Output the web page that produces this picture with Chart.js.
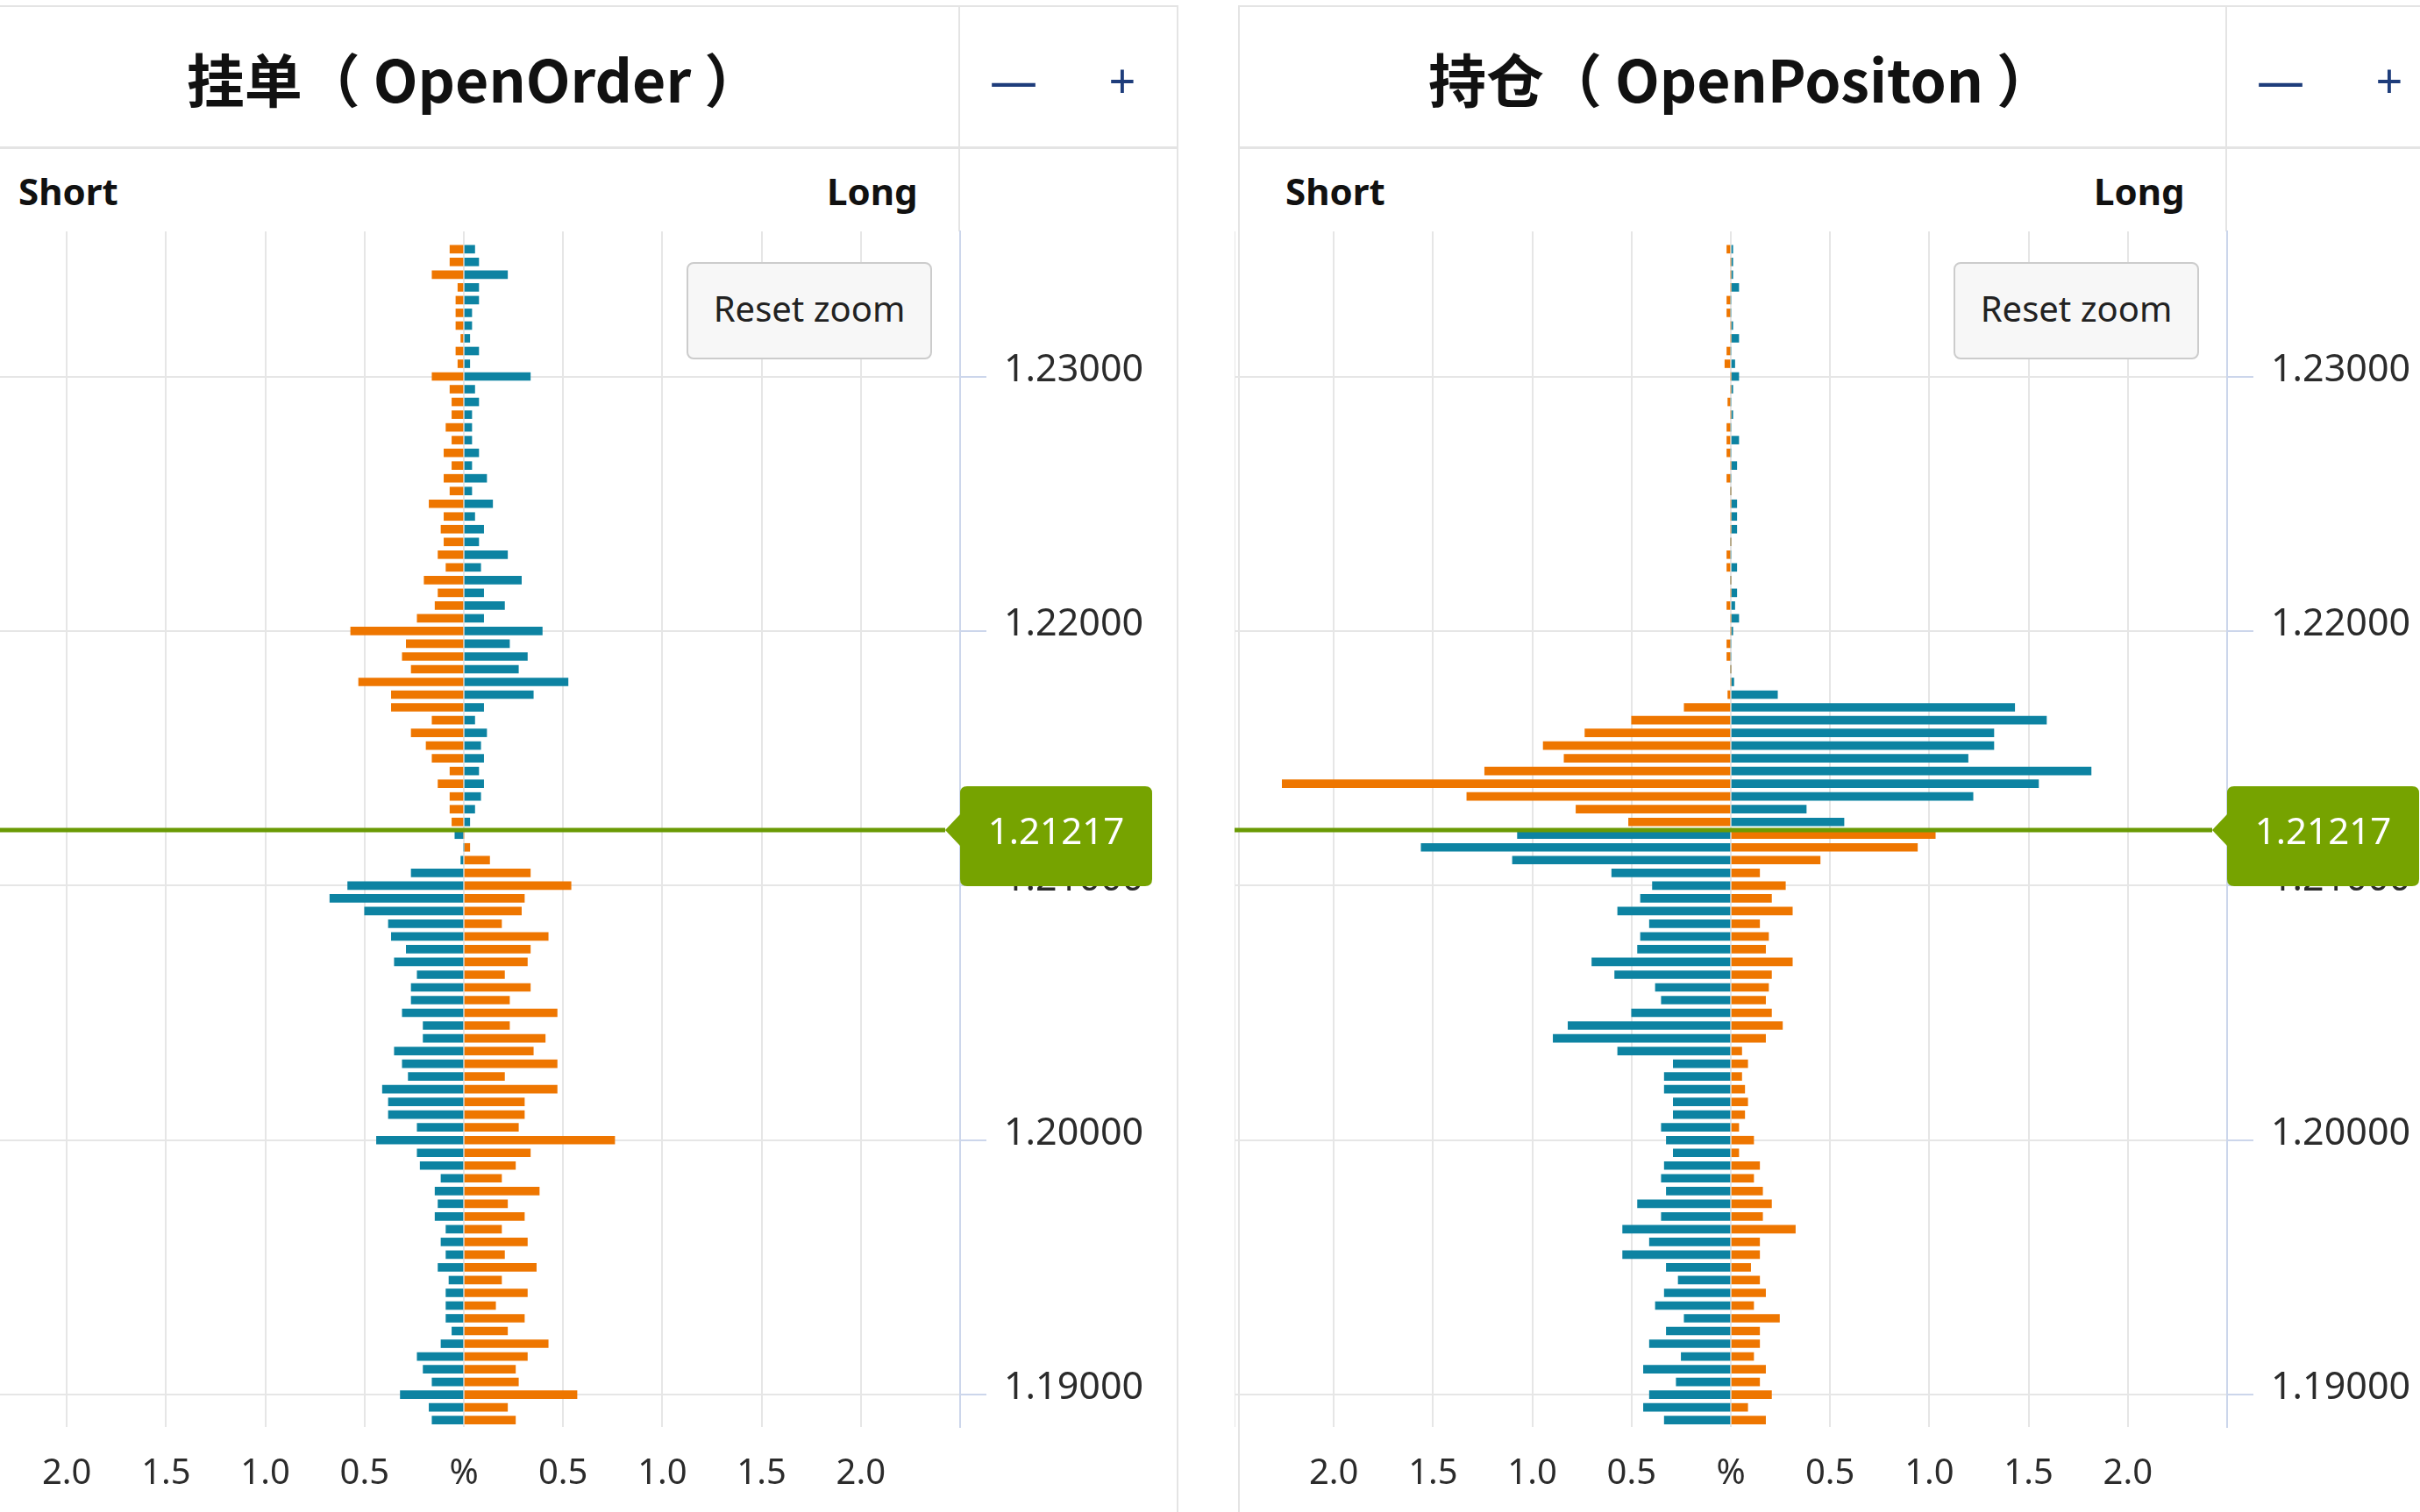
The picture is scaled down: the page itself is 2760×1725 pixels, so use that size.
<!DOCTYPE html>
<html lang="zh">
<head>
  <meta charset="UTF-8">
  <title>挂单 / 持仓</title>
  <script src="https://cdn.jsdelivr.net/npm/chart.js"></script>
  <style>
    html, body {
      margin: 0;
      padding: 0;
      width: 2760px;
      height: 1725px;
      overflow: hidden;
      background: #fff;
      font-family: 'Noto Sans', 'Noto Sans CJK SC', sans-serif;
    }
    .wrap { position: absolute; top: 0; width: 0; height: 0; }
    .frame {
      position: absolute; left: -33px; top: 6px; width: 1377px; height: 1800px;
      border: 2px solid #e4e4e4; box-sizing: border-box;
    }
    .hline { position: absolute; left: -33px; top: 167px; width: 1377px; height: 3px; background: #e4e4e4; }
    .vline { position: absolute; left: 1093px; top: 6px; width: 2px; height: 258px; background: #e4e4e4; }
    .title {
      position: absolute; left: -29px; width: 1140px; top: 8px; height: 160px;
      display: flex; align-items: center; justify-content: center;
      font: bold 66px 'Noto Sans CJK SC', sans-serif; color: #111; white-space: pre;
    }
    .btn {
      position: absolute; top: 61px; width: 80px; height: 60px;
      display: flex; align-items: center; justify-content: center;
      font: 400 54px 'Noto Sans', sans-serif; color: #1e3d7b;
    }
    .side { position: absolute; top: 189px; line-height: 50px; font: bold 42px 'Noto Sans', sans-serif; color: #111; }
    .reset {
      position: absolute; left: 783px; top: 299px; width: 280px; height: 111px; z-index: 2;
      background: #f7f7f7; border: 2px solid #cccccc; border-radius: 8px; box-sizing: border-box;
      display: flex; align-items: center; justify-content: center; padding-bottom: 6px;
      font: 40px 'Noto Sans', sans-serif; color: #222;
    }
    canvas { position: absolute; left: -37px; top: 224px; z-index: 1; }
  </style>
</head>
<body>
  <div class="wrap" style="left:0px">
    <div class="frame"></div>
    <div class="hline"></div>
    <div class="vline"></div>
    <div class="title">挂单（ OpenOrder ）</div>
    <div class="btn" style="left:1116px">—</div>
    <div class="btn" style="left:1240px">+</div>
    <div class="side" style="left:21px">Short</div>
    <div class="side" style="left:943px">Long</div>
    <canvas id="orderChart" width="1382" height="1504"></canvas>
    <div class="reset">Reset zoom</div>
  </div>
  <div class="wrap" style="left:1445px">
    <div class="frame"></div>
    <div class="hline"></div>
    <div class="vline"></div>
    <div class="title">持仓（ OpenPositon ）</div>
    <div class="btn" style="left:1116px">—</div>
    <div class="btn" style="left:1240px">+</div>
    <div class="side" style="left:21px">Short</div>
    <div class="side" style="left:943px">Long</div>
    <canvas id="positionChart" width="1382" height="1504"></canvas>
    <div class="reset">Reset zoom</div>
  </div>

  <script>
    const currentPrice = 1.21217;

    // price bins, top to bottom
    const prices = [
      1.2350, 1.2345, 1.2340, 1.2335, 1.2330, 1.2325, 1.2320, 1.2315, 1.2310, 1.2305,
      1.2300, 1.2295, 1.2290, 1.2285, 1.2280, 1.2275, 1.2270, 1.2265, 1.2260, 1.2255,
      1.2250, 1.2245, 1.2240, 1.2235, 1.2230, 1.2225, 1.2220, 1.2215, 1.2210, 1.2205,
      1.2200, 1.2195, 1.2190, 1.2185, 1.2180, 1.2175, 1.2170, 1.2165, 1.2160, 1.2155,
      1.2150, 1.2145, 1.2140, 1.2135, 1.2130, 1.2125, 1.2120, 1.2115, 1.2110, 1.2105,
      1.2100, 1.2095, 1.2090, 1.2085, 1.2080, 1.2075, 1.2070, 1.2065, 1.2060, 1.2055,
      1.2050, 1.2045, 1.2040, 1.2035, 1.2030, 1.2025, 1.2020, 1.2015, 1.2010, 1.2005,
      1.2000, 1.1995, 1.1990, 1.1985, 1.1980, 1.1975, 1.1970, 1.1965, 1.1960, 1.1955,
      1.1950, 1.1945, 1.1940, 1.1935, 1.1930, 1.1925, 1.1920, 1.1915, 1.1910, 1.1905,
      1.1900, 1.1895, 1.1890
    ];

    // OpenOrder, % per bin
    const orderShort = [
      0.07, 0.07, 0.16, 0.03, 0.04, 0.04, 0.04, 0.015, 0.04, 0.03,
      0.16, 0.07, 0.06, 0.06, 0.09, 0.06, 0.10, 0.06, 0.10, 0.07,
      0.175, 0.10, 0.115, 0.10, 0.13, 0.09, 0.20, 0.13, 0.145, 0.235,
      0.57, 0.29, 0.31, 0.265, 0.53, 0.365, 0.365, 0.16, 0.265, 0.19,
      0.16, 0.07, 0.13, 0.07, 0.07, 0.06, 0.045, 0, 0.015, 0.265,
      0.585, 0.675, 0.50, 0.38, 0.365, 0.29, 0.35, 0.235, 0.265, 0.265,
      0.31, 0.205, 0.205, 0.35, 0.31, 0.28, 0.41, 0.38, 0.38, 0.235,
      0.44, 0.235, 0.22, 0.115, 0.145, 0.13, 0.145, 0.09, 0.115, 0.09,
      0.13, 0.075, 0.09, 0.09, 0.09, 0.06, 0.115, 0.235, 0.205, 0.16,
      0.32, 0.175, 0.16
    ];
    const orderLong = [
      0.055, 0.075, 0.22, 0.075, 0.075, 0.04, 0.04, 0.03, 0.075, 0.03,
      0.335, 0.055, 0.075, 0.04, 0.04, 0.04, 0.075, 0.04, 0.115, 0.04,
      0.145, 0.055, 0.10, 0.075, 0.22, 0.085, 0.29, 0.10, 0.205, 0.10,
      0.395, 0.23, 0.32, 0.275, 0.525, 0.35, 0.10, 0.055, 0.115, 0.085,
      0.10, 0.075, 0.10, 0.085, 0.055, 0.03, 0, 0.03, 0.13, 0.335,
      0.54, 0.305, 0.29, 0.19, 0.425, 0.335, 0.32, 0.205, 0.335, 0.23,
      0.47, 0.23, 0.41, 0.35, 0.47, 0.205, 0.47, 0.305, 0.305, 0.275,
      0.76, 0.335, 0.26, 0.19, 0.38, 0.22, 0.305, 0.19, 0.32, 0.205,
      0.365, 0.19, 0.32, 0.16, 0.305, 0.22, 0.425, 0.32, 0.26, 0.275,
      0.57, 0.22, 0.26
    ];

    // OpenPositon, % per bin
    const positionShort = [
      0.02, 0, 0, 0, 0.02, 0.02, 0, 0, 0.02, 0.03,
      0, 0, 0.015, 0, 0.02, 0.02, 0.02, 0, 0.02, 0,
      0, 0, 0, 0, 0.02, 0.02, 0, 0, 0.02, 0,
      0, 0.02, 0.02, 0, 0, 0.015, 0.235, 0.50, 0.735, 0.945,
      0.84, 1.24, 2.26, 1.33, 0.78, 0.515, 1.075, 1.56, 1.10, 0.60,
      0.395, 0.455, 0.57, 0.41, 0.455, 0.47, 0.70, 0.585, 0.38, 0.35,
      0.50, 0.82, 0.895, 0.57, 0.29, 0.335, 0.335, 0.29, 0.29, 0.35,
      0.325, 0.29, 0.335, 0.35, 0.325, 0.47, 0.35, 0.545, 0.41, 0.545,
      0.325, 0.265, 0.335, 0.38, 0.235, 0.325, 0.41, 0.25, 0.44, 0.275,
      0.41, 0.44, 0.335
    ];
    const positionLong = [
      0.01, 0.01, 0.01, 0.04, 0, 0, 0.01, 0.04, 0, 0.02,
      0.04, 0.01, 0, 0.01, 0, 0.04, 0, 0.03, 0, 0,
      0.03, 0.03, 0.03, 0, 0, 0.03, 0, 0.03, 0.02, 0.04,
      0.01, 0, 0, 0, 0.015, 0.235, 1.43, 1.59, 1.325, 1.325,
      1.195, 1.815, 1.55, 1.22, 0.38, 0.57, 1.03, 0.94, 0.45, 0.145,
      0.275, 0.205, 0.31, 0.145, 0.19, 0.175, 0.31, 0.205, 0.19, 0.175,
      0.205, 0.26, 0.175, 0.055, 0.085, 0.055, 0.07, 0.085, 0.07, 0.04,
      0.115, 0.04, 0.145, 0.115, 0.16, 0.205, 0.16, 0.325, 0.145, 0.145,
      0.10, 0.145, 0.175, 0.115, 0.245, 0.145, 0.145, 0.115, 0.175, 0.145,
      0.205, 0.085, 0.175
    ];

    const xTicks = [-2.5, -2.0, -1.5, -1.0, -0.5, 0, 0.5, 1.0, 1.5, 2.0, 2.5];
    const yTicks = [1.19, 1.20, 1.21, 1.22, 1.23];

    const ORANGE = '#ee7600';
    const TEAL = '#0d83a2';
    const GREEN_LINE = '#6a9a04';
    const GREEN_TAG = '#76a300';

    // current price line + tag on the price axis
    const priceTag = {
      id: 'priceTag',
      afterDatasetsDraw(chart) {
        const { ctx, chartArea, scales } = chart;
        const py = Math.round(scales.y.getPixelForValue(currentPrice));
        const boxL = chartArea.right;
        const boxR = boxL + 219;
        const tip = boxL - 17;
        const top = py - 50, bot = py + 64, r = 8;
        ctx.save();
        ctx.strokeStyle = GREEN_LINE;
        ctx.lineWidth = 5;
        ctx.beginPath();
        ctx.moveTo(chartArea.left, py);
        ctx.lineTo(tip, py);
        ctx.stroke();

        ctx.fillStyle = GREEN_TAG;
        ctx.beginPath();
        ctx.moveTo(boxL + r, top);
        ctx.lineTo(boxR - r, top);
        ctx.quadraticCurveTo(boxR, top, boxR, top + r);
        ctx.lineTo(boxR, bot - r);
        ctx.quadraticCurveTo(boxR, bot, boxR - r, bot);
        ctx.lineTo(boxL + r, bot);
        ctx.quadraticCurveTo(boxL, bot, boxL, bot - r);
        ctx.lineTo(boxL, py + 18);
        ctx.lineTo(tip, py);
        ctx.lineTo(boxL, py - 18);
        ctx.lineTo(boxL, top + r);
        ctx.quadraticCurveTo(boxL, top, boxL + r, top);
        ctx.closePath();
        ctx.fill();

        ctx.fillStyle = '#ffffff';
        ctx.font = "42px 'Noto Sans', sans-serif";
        ctx.textAlign = 'center';
        ctx.textBaseline = 'middle';
        ctx.fillText(currentPrice.toFixed(5), (boxL + boxR) / 2, py + 4);
        ctx.restore();
      }
    };

    function makeChart(canvasId, shortVals, longVals) {
      const ctx = document.getElementById(canvasId).getContext('2d');
      return new Chart(ctx, {
        type: 'bar',
        data: {
          datasets: [
            {
              label: 'Short',
              data: prices.map((p, i) => ({ x: -shortVals[i], y: p })),
              backgroundColor: c => (c.raw && c.raw.y > currentPrice ? ORANGE : TEAL)
            },
            {
              label: 'Long',
              data: prices.map((p, i) => ({ x: longVals[i], y: p })),
              backgroundColor: c => (c.raw && c.raw.y > currentPrice ? TEAL : ORANGE)
            }
          ]
        },
        options: {
          indexAxis: 'y',
          responsive: false,
          animation: false,
          devicePixelRatio: 1,
          layout: { padding: { top: 40 } },
          datasets: {
            bar: { grouped: false, barThickness: 9, borderWidth: 0 }
          },
          plugins: {
            legend: { display: false },
            tooltip: { enabled: false }
          },
          scales: {
            x: {
              type: 'linear',
              min: -2.5,
              max: 2.5,
              afterBuildTicks: s => { s.ticks = xTicks.map(v => ({ value: v })); },
              afterFit: s => { s.height = 100; s.paddingLeft = 0; s.paddingRight = 0; },
              border: { display: false },
              grid: { color: '#e6e6e6', lineWidth: 2, drawTicks: false },
              ticks: {
                autoSkip: false,
                maxRotation: 0,
                padding: 30,
                color: '#2b2b2b',
                font: { family: "'Noto Sans', sans-serif", size: 40 },
                callback: v => (v === 0 ? '%' : Math.abs(v) === 2.5 ? '' : Math.abs(v).toFixed(1))
              }
            },
            y: {
              type: 'linear',
              position: 'right',
              offset: false,
              min: 1.18873,
              max: 1.2357,
              afterBuildTicks: s => { s.ticks = yTicks.map(v => ({ value: v })); },
              afterFit: s => { s.width = 250; s.paddingTop = 0; s.paddingBottom = 0; },
              border: { display: true, color: '#ccd6eb', width: 2 },
              grid: { offset: false, color: '#e6e6e6', lineWidth: 2, tickColor: '#ccd6eb', tickLength: 30, tickWidth: 2 },
              ticks: {
                padding: 20,
                labelOffset: -7,
                color: '#2b2b2b',
                font: { family: "'Noto Sans', sans-serif", size: 43 },
                callback: v => v.toFixed(5)
              }
            }
          }
        },
        plugins: [priceTag]
      });
    }

    makeChart('orderChart', orderShort, orderLong);
    makeChart('positionChart', positionShort, positionLong);
  </script>
</body>
</html>
